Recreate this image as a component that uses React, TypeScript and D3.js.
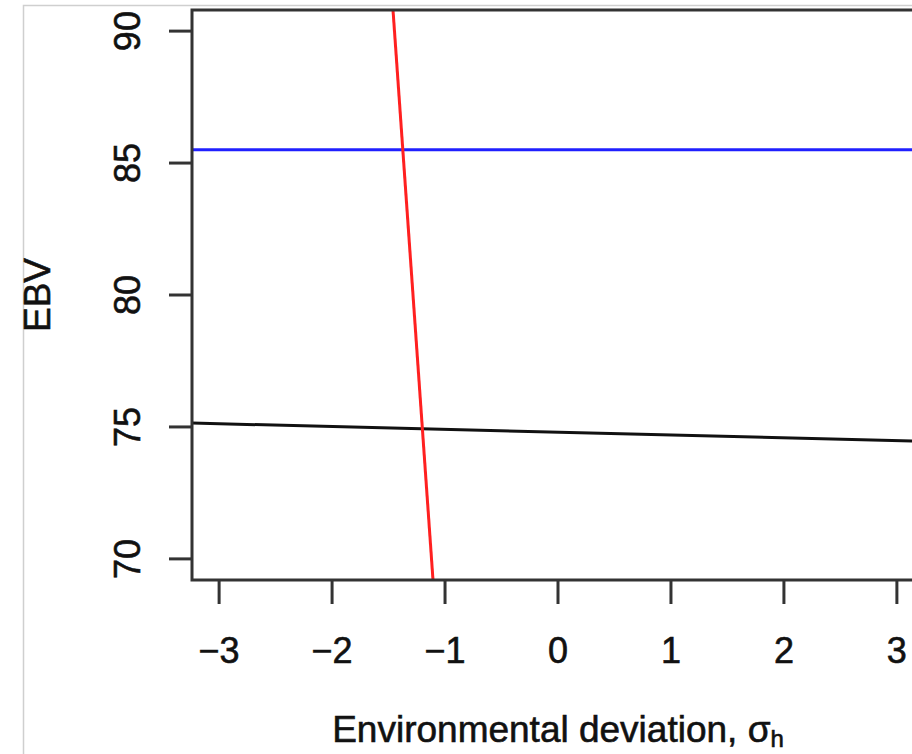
import * as d3 from 'd3';
import React, { useEffect, useRef } from 'react';

// axis ticks
const xTicks = [-3, -2, -1, 0, 1, 2, 3];
const yTicks = [70, 75, 80, 85, 90];
const xLim = [-3, 3];
const yLim = [70, 90];

// reaction norms as abline(intercept, slope)
const lineNames = ['blue', 'black', 'red'];
const intercepts = [85.5, 74.8, 1.7];
const slopes = [0, -0.107, -61];

const lineColors: Record<string, string> = {
  blue: '#2020ff',
  black: '#111111',
  red: '#ff2020',
};

const App = () => {
  const ref = useRef<SVGSVGElement>(null);

  useEffect(() => {
    const svg = d3.select(ref.current);
    svg.selectAll('*').remove();

    const W = 912, H = 754;
    const left = 192, right = 924, top = 10, bottom = 580;
    const font = '"Liberation Sans", Arial, sans-serif';
    const fs = 36;

    // R style 4% padding of the limits
    const padX = (xLim[1] - xLim[0]) * 0.04;
    const padY = (yLim[1] - yLim[0]) * 0.04;
    const x = d3.scaleLinear().domain([xLim[0] - padX, xLim[1] + padX]).range([left, right]);
    const y = d3.scaleLinear().domain([yLim[0] - padY, yLim[1] + padY]).range([bottom, top]);

    svg.attr('width', W).attr('height', H);

    svg.append('rect').attr('width', W).attr('height', H).attr('fill', '#fff');

    // outer figure border
    svg.append('rect')
      .attr('x', 23.5).attr('y', 5.5)
      .attr('width', 1000).attr('height', 1000)
      .attr('fill', 'none').attr('stroke', '#cfcfcf').attr('stroke-width', 1.5);

    svg.append('clipPath').attr('id', 'plotclip')
      .append('rect')
      .attr('x', left).attr('y', top)
      .attr('width', right - left).attr('height', bottom - top);

    const g = svg.append('g').attr('clip-path', 'url(#plotclip)');
    const [d0, d1] = x.domain();
    const line = d3.line<[number, number]>().x(d => x(d[0])).y(d => y(d[1]));

    lineNames.forEach((name, i) => {
      const pts: [number, number][] = [
        [d0, intercepts[i] + slopes[i] * d0],
        [d1, intercepts[i] + slopes[i] * d1],
      ];
      g.append('path')
        .attr('d', line(pts))
        .attr('fill', 'none')
        .attr('stroke', lineColors[name])
        .attr('stroke-width', 3);
    });

    // frame
    svg.append('rect')
      .attr('x', left).attr('y', top)
      .attr('width', right - left).attr('height', bottom - top)
      .attr('fill', 'none').attr('stroke', '#333').attr('stroke-width', 3);

    const txt = (sel: any) => sel
      .attr('font-family', font).attr('font-size', fs)
      .attr('fill', '#111').attr('stroke', '#111').attr('stroke-width', 0.6);

    // x axis
    const xa = svg.append('g');
    xTicks.forEach(t => {
      xa.append('line')
        .attr('x1', x(t)).attr('x2', x(t))
        .attr('y1', bottom).attr('y2', bottom + 24)
        .attr('stroke', '#333').attr('stroke-width', 3);
      xa.append('text')
        .attr('x', x(t)).attr('y', 663)
        .attr('text-anchor', 'middle')
        .call(txt)
        .text(t < 0 ? '\u2212' + Math.abs(t) : String(t));
    });

    // y axis
    const ya = svg.append('g');
    yTicks.forEach(t => {
      ya.append('line')
        .attr('x1', left - 23).attr('x2', left)
        .attr('y1', y(t)).attr('y2', y(t))
        .attr('stroke', '#333').attr('stroke-width', 3);
      ya.append('text')
        .attr('transform', `translate(140,${y(t)}) rotate(-90)`)
        .attr('text-anchor', 'middle')
        .call(txt)
        .text(String(t));
    });

    // axis titles
    const xt = svg.append('text')
      .attr('x', 558).attr('y', 742)
      .attr('text-anchor', 'middle')
      .call(txt)
      .attr('font-size', 37);
    xt.append('tspan').text('Environmental deviation, \u03c3');
    xt.append('tspan').attr('font-size', 24).attr('dy', 5).text('h');

    svg.append('text')
      .attr('transform', `translate(50,${(top + bottom) / 2}) rotate(-90)`)
      .attr('text-anchor', 'middle')
      .call(txt)
      .attr('font-size', 37)
      .text('EBV');
  }, []);

  return (
    <svg ref={ref} style={{ position: 'absolute', left: 0, top: 0, display: 'block' }}></svg>
  );
};

export default App;
